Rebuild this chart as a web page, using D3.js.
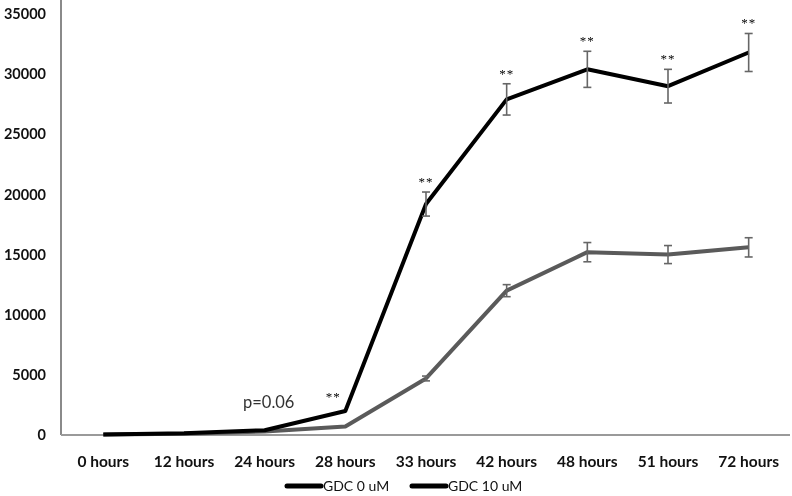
<!DOCTYPE html>
<html>
<head>
<meta charset="utf-8">
<script src="https://cdn.jsdelivr.net/npm/d3@7"></script>
<style>
  body { margin: 0; background: #fff; }
  svg { display: block; will-change: transform; }
</style>
</head>
<body>
<div id="chart"></div>
<script>
// data
var hours = ["0 hours", "12 hours", "24 hours", "28 hours", "33 hours", "42 hours", "48 hours", "51 hours", "72 hours"];
var gdc0 = [50, 150, 400, 2000, 19200, 27900, 30400, 29000, 31800];
var gdc0Err = [0, 0, 0, 0, 1000, 1300, 1500, 1400, 1580];
var gdc10 = [50, 100, 300, 700, 4700, 12000, 15200, 15000, 15600];
var gdc10Err = [0, 0, 0, 0, 200, 500, 800, 750, 800];
var starred = ["28 hours", "33 hours", "42 hours", "48 hours", "51 hours", "72 hours"];
var yTicks = [0, 5000, 10000, 15000, 20000, 25000, 30000, 35000];
var seriesNames = ["GDC 0 uM", "GDC 10 uM"];

var width = 792, height = 496;
var svg = d3.select("#chart").append("svg")
  .attr("width", width)
  .attr("height", height);

var x = d3.scaleBand().domain(hours).range([63, 789]);
var y = d3.scaleLinear().domain([0, 35000]).range([435, 14]);
var cx = function (d) { return x(d) + x.bandwidth() / 2; };

var font = "Lato, 'Open Sans', sans-serif";

// y axis
svg.append("line")
  .attr("x1", 61).attr("x2", 61)
  .attr("y1", 0).attr("y2", y(0))
  .attr("stroke", "#8a8a8a").attr("stroke-width", 2);

svg.selectAll(".ylab")
  .data(yTicks)
  .enter().append("text")
    .attr("class", "ylab")
    .attr("x", 46)
    .attr("y", function (d) { return y(d); })
    .attr("dy", "0.35em")
    .attr("text-anchor", "end")
    .attr("font-family", font)
    .attr("font-weight", "bold")
    .attr("font-size", "14.5px")
    .attr("fill", "#111")
    .text(function (d) { return d; });

// x axis
svg.append("line")
  .attr("x1", 61).attr("x2", 790)
  .attr("y1", y(0)).attr("y2", y(0))
  .attr("stroke", "#9a9a9a").attr("stroke-width", 2);

svg.selectAll(".xlab")
  .data(hours)
  .enter().append("text")
    .attr("class", "xlab")
    .attr("x", cx)
    .attr("y", 462)
    .attr("dy", "0.35em")
    .attr("text-anchor", "middle")
    .attr("font-family", font)
    .attr("font-weight", "bold")
    .attr("font-size", "15.5px")
    .attr("fill", "#111")
    .text(function (d) { return d; });

var line = d3.line()
  .x(function (d) { return cx(d.h); })
  .y(function (d) { return y(d.v); });

function drawSeries(vals, errs, color) {
  var pts = hours.map(function (h, i) { return { h: h, v: vals[i], e: errs[i] }; });
  svg.append("path")
    .datum(pts)
    .attr("d", line)
    .attr("fill", "none")
    .attr("stroke", color)
    .attr("stroke-width", 4)
    .attr("stroke-linejoin", "round");

  var eb = svg.selectAll(null)
    .data(pts.filter(function (d) { return d.e > 0; }))
    .enter().append("g")
    .attr("stroke", "#666")
    .attr("stroke-width", 1.6);
  eb.append("line")
    .attr("x1", function (d) { return cx(d.h); })
    .attr("x2", function (d) { return cx(d.h); })
    .attr("y1", function (d) { return y(d.v - d.e); })
    .attr("y2", function (d) { return y(d.v + d.e); });
  [-1, 1].forEach(function (s) {
    eb.append("line")
      .attr("x1", function (d) { return cx(d.h) - 4; })
      .attr("x2", function (d) { return cx(d.h) + 4; })
      .attr("y1", function (d) { return y(d.v + s * d.e); })
      .attr("y2", function (d) { return y(d.v + s * d.e); });
  });
}

drawSeries(gdc10, gdc10Err, "#5a5a5a");
drawSeries(gdc0, gdc0Err, "#000");

// significance stars
svg.selectAll(".star")
  .data(starred)
  .enter().append("text")
    .attr("class", "star")
    .attr("x", function (d) {
      var i = hours.indexOf(d);
      return cx(d) - (i === 3 ? 12 : 0);
    })
    .attr("y", function (d) {
      var i = hours.indexOf(d);
      return y(gdc0[i] + gdc0Err[i]) - (i === 3 ? 10 : 6);
    })
    .attr("text-anchor", "middle")
    .attr("font-family", "'Liberation Serif', serif")
    .attr("font-size", "13px")
    .attr("letter-spacing", "1px")
    .attr("fill", "#000")
    .text("**");

svg.append("text")
  .attr("x", 243)
  .attr("y", 402)
  .attr("dy", "0.35em")
  .attr("font-family", font)
  .attr("font-size", "16.5px")
  .attr("fill", "#333")
  .text("p=0.06");

// legend (both keys drawn black, as in the original)
var leg = svg.selectAll(".leg")
  .data(seriesNames)
  .enter().append("g")
  .attr("class", "leg")
  .attr("transform", function (d, i) { return "translate(" + (287 + i * 125) + ",486)"; });
leg.append("line")
  .attr("x1", 0).attr("x2", 34)
  .attr("stroke", "#000").attr("stroke-width", 5)
  .attr("stroke-linecap", "round");
leg.append("text")
  .attr("x", 36)
  .attr("dy", "0.35em")
  .attr("font-family", font)
  .attr("font-size", "14px")
  .attr("fill", "#111")
  .text(function (d) { return d; });
</script>
</body>
</html>
